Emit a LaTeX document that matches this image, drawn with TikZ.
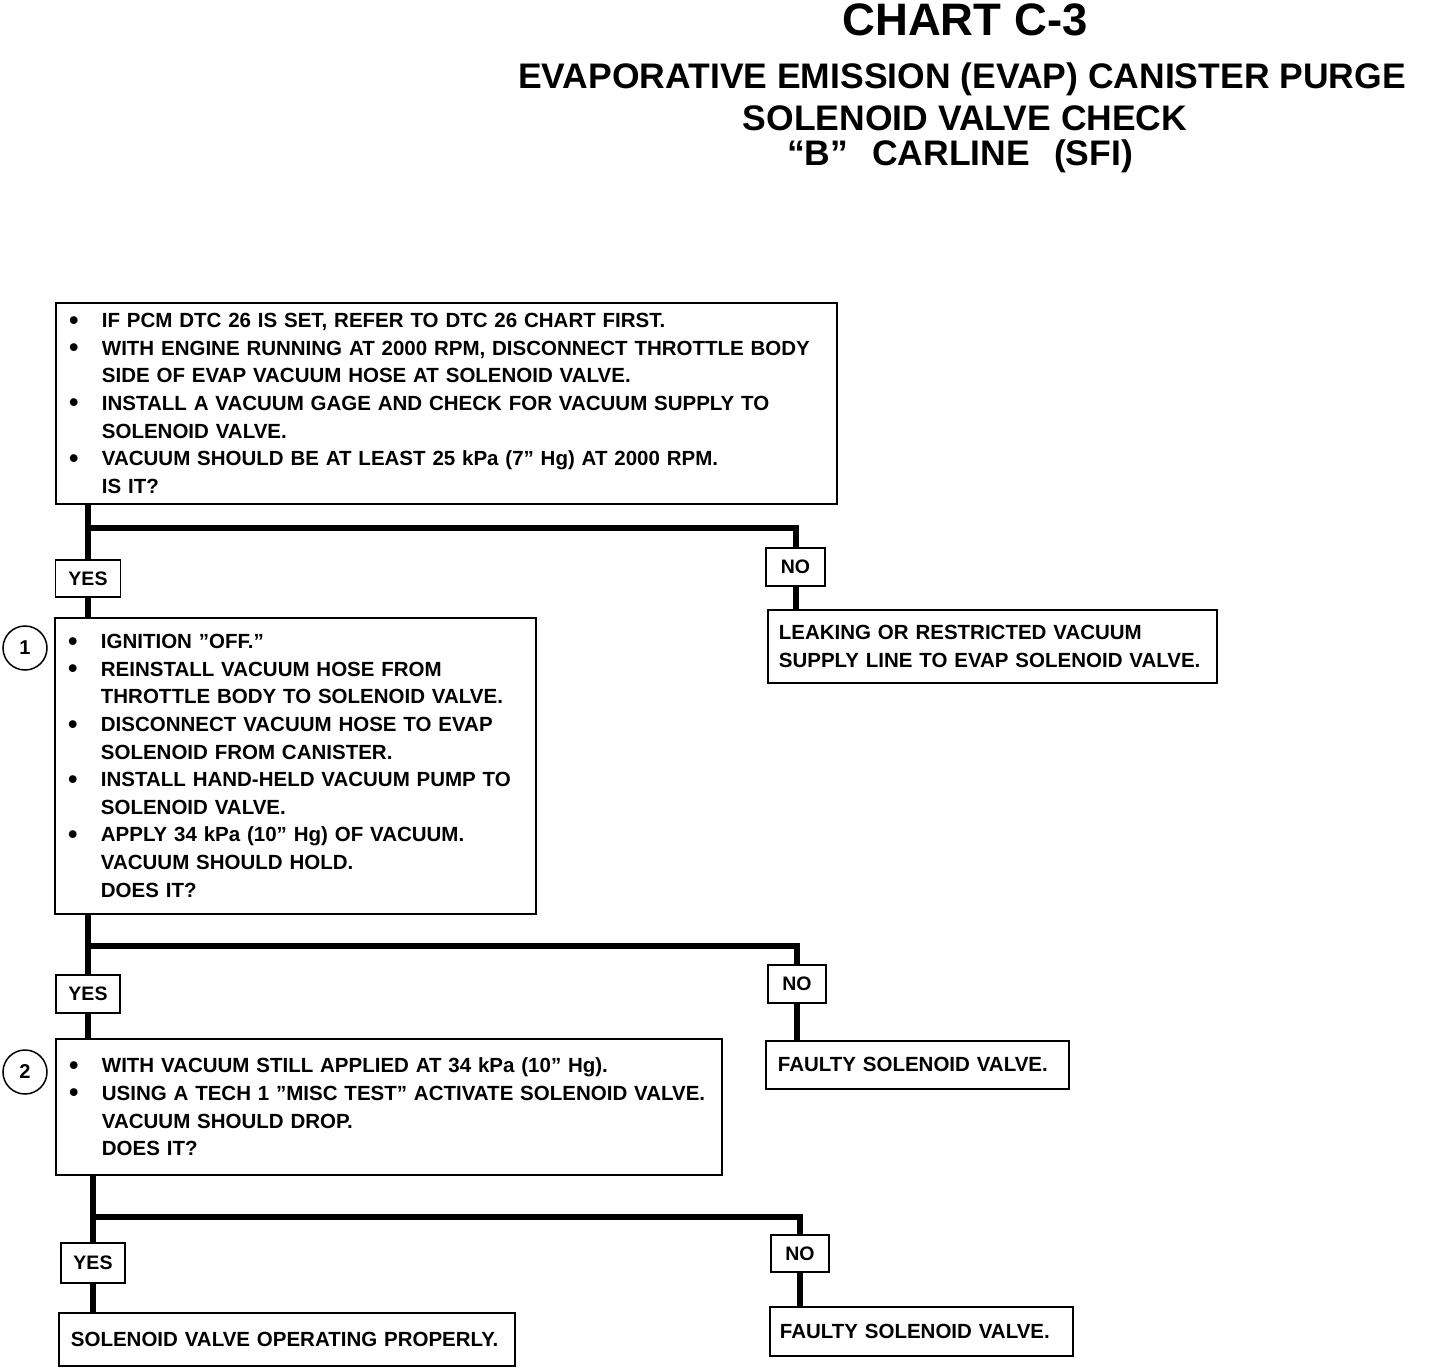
\documentclass[tikz,border=0pt]{standalone}
\usepackage{fontspec}
\setmainfont{Liberation Sans}
\newcommand\mybi[1]{\makebox[20pt]{\fontsize{27}{0}\selectfont\raisebox{-1.5pt}{\textbullet}}\hspace{18pt}\mbox{#1}}
\newcommand\myci[1]{\hspace*{38pt}\mbox{#1}}
\begin{document}
\begin{tikzpicture}[x=1pt,y=-1pt]
\tikzset{
 box/.style={draw, line width=1.8pt, rectangle, anchor=north west, align=left, inner xsep=8pt, inner ysep=0pt, font=\bfseries\fontsize{20.5}{27.6}\selectfont},
 tag/.style={draw, line width=1.8pt, inner sep=0pt, font=\bfseries\fontsize{19.5}{22}\selectfont},
 conn/.style={line width=6pt},
 numc/.style={draw, circle, line width=1.5pt, minimum size=44pt, inner sep=0pt, font=\bfseries\fontsize{20}{24}\selectfont},
 ttl/.style={inner sep=0pt}
}
\fill[white] (0,0) rectangle (1440,1372);
\useasboundingbox (0,0) rectangle (1440,1372);

% titles
\node[ttl, font=\bfseries\fontsize{45.5}{50}\selectfont] (t0) at (965,20) {CHART C-3};
\node[ttl, font=\bfseries\fontsize{35.5}{40}\selectfont] (t1) at (962,79) {EVAPORATIVE EMISSION (EVAP) CANISTER PURGE};
\node[ttl, font=\bfseries\fontsize{35.5}{40}\selectfont] (t2) at (965,118) {SOLENOID VALVE CHECK};
\node[ttl, font=\bfseries\fontsize{35.5}{40}\selectfont] (t3) at (960,156) {“B”\hspace{24pt}CARLINE\hspace{24pt}(SFI)};

% step boxes
\node[box, text width=765pt, minimum height=201pt] (b1) at (55,302) {%
\mybi{IF PCM DTC 26 IS SET, REFER TO DTC 26 CHART FIRST.}\\
\mybi{WITH ENGINE RUNNING AT 2000 RPM, DISCONNECT THROTTLE BODY}\\
\myci{SIDE OF EVAP VACUUM HOSE AT SOLENOID VALVE.}\\
\mybi{INSTALL A VACUUM GAGE AND CHECK FOR VACUUM SUPPLY TO}\\
\myci{SOLENOID VALVE.}\\
\mybi{VACUUM SHOULD BE AT LEAST 25 kPa (7” Hg) AT 2000 RPM.}\\
\myci{IS IT?}};

\node[box, text width=465pt, minimum height=296pt] (b2) at (54,617) {%
\mybi{IGNITION ”OFF.”}\\
\mybi{REINSTALL VACUUM HOSE FROM}\\
\myci{THROTTLE BODY TO SOLENOID VALVE.}\\
\mybi{DISCONNECT VACUUM HOSE TO EVAP}\\
\myci{SOLENOID FROM CANISTER.}\\
\mybi{INSTALL HAND-HELD VACUUM PUMP TO}\\
\myci{SOLENOID VALVE.}\\
\mybi{APPLY 34 kPa (10” Hg) OF VACUUM.}\\
\myci{VACUUM SHOULD HOLD.}\\
\myci{DOES IT?}};

\node[box, text width=650pt, minimum height=136pt] (b3) at (55,1038) {%
\mybi{WITH VACUUM STILL APPLIED AT 34 kPa (10” Hg).}\\
\mybi{USING A TECH 1 ”MISC TEST” ACTIVATE SOLENOID VALVE.}\\
\myci{VACUUM SHOULD DROP.}\\
\myci{DOES IT?}};

% result boxes
\node[box, inner xsep=11pt, text width=427pt, minimum height=73pt] (r1) at (767,609) {%
\mbox{LEAKING OR RESTRICTED VACUUM}\\
\mbox{SUPPLY LINE TO EVAP SOLENOID VALVE.}};
\node[box, inner xsep=12pt, text width=279pt, minimum height=48pt] (r2) at (765,1040) {\mbox{FAULTY SOLENOID VALVE.}};
\node[box, inner xsep=12pt, text width=432pt, minimum height=53pt] (r3) at (58,1312) {\mbox{SOLENOID VALVE OPERATING PROPERLY.}};
\node[box, inner xsep=10pt, text width=283pt, minimum height=49pt] (r4) at (769,1306) {\mbox{FAULTY SOLENOID VALVE.}};

% yes / no tags
\node[tag, minimum width=65pt, minimum height=37pt] (yes1) at (88,578.5) {YES};
\node[tag, minimum width=59pt, minimum height=38pt] (no1) at (795.5,567) {NO};
\node[tag, minimum width=64pt, minimum height=38pt] (yes2) at (88,994) {YES};
\node[tag, minimum width=58pt, minimum height=38pt] (no2) at (797,984) {NO};
\node[tag, minimum width=64pt, minimum height=40pt] (yes3) at (93,1263) {YES};
\node[tag, minimum width=58pt, minimum height=37pt] (no3) at (800,1253.5) {NO};

% step numbers
\node[numc] (c1) at (25,648) {1};
\node[numc] (c2) at (25,1072) {2};

% connectors
\coordinate (j1) at (88,528);
\draw[conn] (b1.south -| yes1.north) -- (yes1.north);
\draw[conn] (j1) -| (no1.north);
\draw[conn] (yes1.south) -- (yes1.south |- b2.north);
\draw[conn] (no1.south) -- (no1.south |- r1.north);

\coordinate (j2) at (88,946);
\draw[conn] (b2.south -| yes2.north) -- (yes2.north);
\draw[conn] (j2) -| (no2.north);
\draw[conn] (yes2.south) -- (yes2.south |- b3.north);
\draw[conn] (no2.south) -- (no2.south |- r2.north);

\coordinate (j3) at (93,1217);
\draw[conn] (b3.south -| yes3.north) -- (yes3.north);
\draw[conn] (j3) -| (no3.north);
\draw[conn] (yes3.south) -- (yes3.south |- r3.north);
\draw[conn] (no3.south) -- (no3.south |- r4.north);
\end{tikzpicture}
\end{document}
